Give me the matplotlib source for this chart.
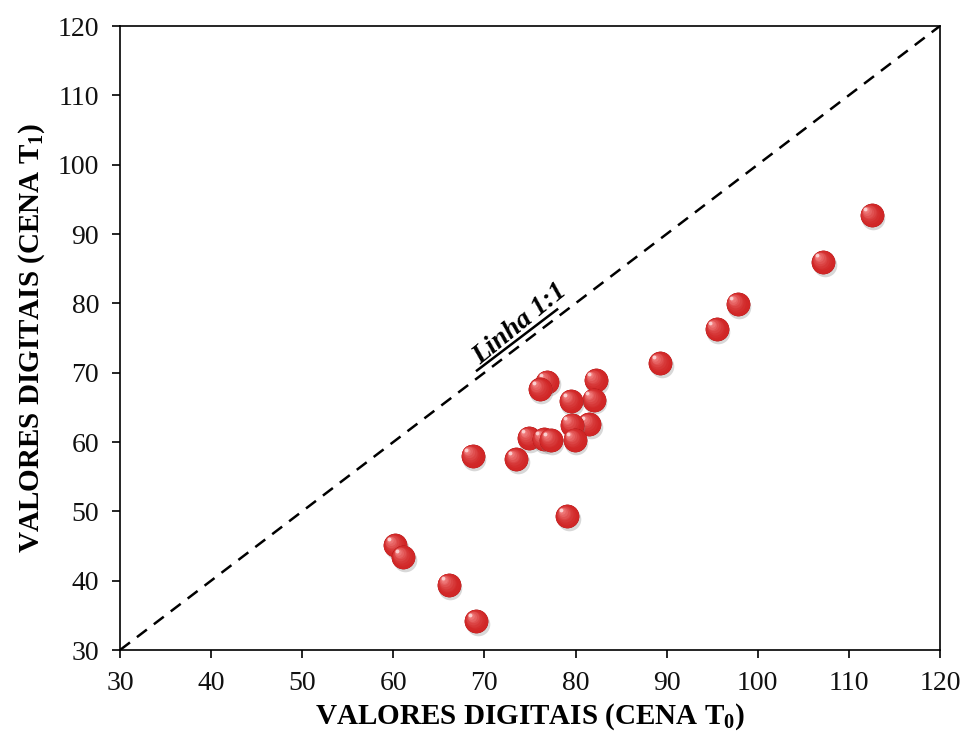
import numpy as np
import matplotlib
matplotlib.use("Agg")
import matplotlib.pyplot as plt
from matplotlib.colors import to_rgb
from matplotlib.transforms import ScaledTranslation

# Valores digitais
cena_t0 = [112.5, 107.2, 97.8, 95.5, 89.3, 82.2, 82.0, 79.5, 76.9, 76.1,
           81.5, 79.6, 79.9, 74.9, 76.5, 77.3, 73.5, 68.7, 79.1, 60.2,
           61.1, 66.1, 69.1]
cena_t1 = [92.7, 86.0, 79.9, 76.3, 71.4, 68.9, 66.1, 65.9, 68.7, 67.6,
           62.6, 62.5, 60.3, 60.6, 60.4, 60.3, 57.5, 58.0, 49.3, 45.1,
           43.4, 39.4, 34.2]

lim = (30, 120)
ticks = np.arange(30, 121, 10)

plt.rcParams['font.family'] = ['Liberation Serif', 'DejaVu Serif']
plt.rcParams['mathtext.fontset'] = 'custom'
plt.rcParams['mathtext.rm'] = 'Liberation Serif'
plt.rcParams['mathtext.bf'] = 'Liberation Serif:bold'

fig = plt.figure(figsize=(9.67, 7.45), dpi=100)
ax = fig.add_axes([0.1241, 0.1275, 0.8479, 0.8376])

# linha 1:1
ax.plot(lim, lim, color='black', linestyle=(0, (5, 3.5)), linewidth=1.8, zorder=2)

# esferas vermelhas com sombreado
diam = 17.0  # pontos
dark = np.array(to_rgb('#8a0a0a'))
mid = np.array(to_rgb('#d02626'))
light = np.array(to_rgb('#f58a8a'))


def shift(dx, dy):
    return ax.transData + ScaledTranslation(dx / 72, dy / 72, fig.dpi_scale_trans)


z = 3
for x, y in zip(cena_t0, cena_t1):
    ax.scatter([x], [y], s=diam ** 2, color='grey', alpha=0.3,
               linewidths=0, transform=shift(1.0, -2.0), zorder=z)
    ax.scatter([x], [y], s=diam ** 2, color=dark, linewidths=0, zorder=z + 0.1)
    n = 9
    for i in range(n):
        f = 1 - i / n
        size = diam * (0.93 * f + 0.07)
        c = mid + (light - mid) * (i / (n - 1)) ** 1.8
        off = (diam - size) * 0.3
        ax.scatter([x], [y], s=size ** 2, color=c, linewidths=0,
                   transform=shift(-off, off), zorder=z + 0.2 + i * 0.01)
    ax.scatter([x], [y], s=(diam * 0.16) ** 2, color='white', alpha=0.6,
               linewidths=0, transform=shift(-diam * 0.27, diam * 0.27),
               zorder=z + 0.4)
    z += 1

# rotulo da linha, sublinhado, logo acima da reta
ang = np.degrees(np.arctan2(0.8376 * 7.45, 0.8479 * 9.67))
th = np.radians(ang)
lab_start, lab_end = 69.6, 78.4
ax.text(lab_start + 0.5, lab_start + 0.5, 'Linha 1:1', rotation=ang + 2,
        rotation_mode='anchor', ha='left', va='baseline',
        family=['Liberation Sans Narrow', 'Liberation Serif'],
        fontsize=20, fontweight='bold', fontstyle='italic', zorder=40,
        transform=shift(-6.5 * np.sin(th), 6.5 * np.cos(th)))
ux = np.array([lab_start, lab_end])
ax.plot(ux, ux, color='black', linewidth=1.8, zorder=40,
        transform=shift(-4.5 * np.sin(th), 4.5 * np.cos(th)))

ax.set_xlim(lim)
ax.set_ylim(lim)
ax.set_xticks(ticks)
ax.set_yticks(ticks)
ax.tick_params(direction='out', length=6, width=1.2, labelsize=20, pad=9,
               labelcolor='#111111')
for sp in ax.spines.values():
    sp.set_linewidth(1.2)

ax.set_xlabel(r'VALORES DIGITAIS (CENA T$_\mathbf{0}$)', fontsize=21,
              fontweight='bold', labelpad=4)
ax.set_ylabel(r'VALORES DIGITAIS (CENA T$_\mathbf{1}$)', fontsize=21,
              fontweight='bold', labelpad=8)

fig.savefig('out.png', dpi=100)
